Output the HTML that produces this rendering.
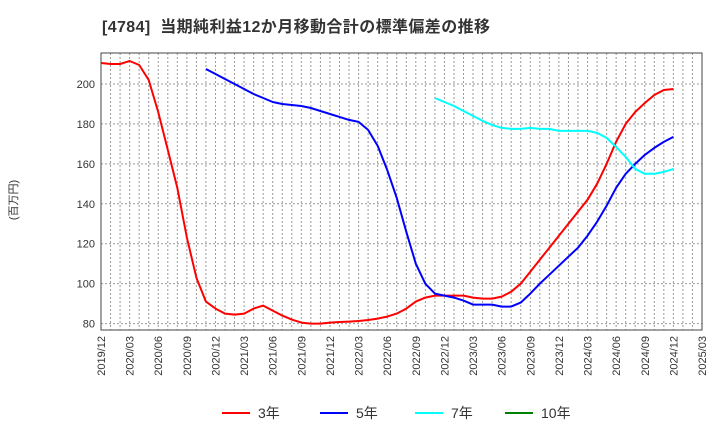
<!DOCTYPE html>
<html><head><meta charset="utf-8"><style>
body{margin:0;background:#fff;font-family:"Liberation Sans","Noto Sans CJK JP",sans-serif;}
</style></head><body>
<svg width="720" height="440" id="chart" xmlns="http://www.w3.org/2000/svg" font-family="Liberation Sans, Noto Sans CJK JP, sans-serif">
<text x="102" y="32" font-size="16" font-weight="bold" fill="#333" textLength="388" lengthAdjust="spacing" xml:space="preserve">[4784]  当期純利益12か月移動合計の標準偏差の推移</text>
<text transform="translate(17,200) rotate(-90)" text-anchor="middle" font-size="11" fill="#333">(百万円)</text>
<g id="grid"></g><g id="series"></g><g id="axes"></g>
<g font-size="14" fill="#333">
<line x1="222" y1="413" x2="250" y2="413" stroke="#ff0000" stroke-width="2"/><text x="258" y="418">3年</text>
<line x1="320" y1="413" x2="348" y2="413" stroke="#0000ff" stroke-width="2"/><text x="356" y="418">5年</text>
<line x1="415" y1="413" x2="443" y2="413" stroke="#00ffff" stroke-width="2"/><text x="451" y="418">7年</text>
<line x1="505" y1="413" x2="533" y2="413" stroke="#008000" stroke-width="2"/><text x="541" y="418">10年</text>
</g>
</svg>
<script>
const tickLabels=["2019/12","2020/03","2020/06","2020/09","2020/12","2021/03","2021/06","2021/09","2021/12","2022/03","2022/06","2022/09","2022/12","2023/03","2023/06","2023/09","2023/12","2024/03","2024/06","2024/09","2024/12","2025/03"];
const yTicks=[80,100,120,140,160,180,200];
const red=[210.5,210,210,211.5,209.5,202,186,167,148,123,103,91,87.5,85,84.5,85,87.5,89,86.5,84,82,80.5,80,80,80.5,80.8,81,81.3,81.8,82.5,83.5,85,87.5,91,93,94,94,94,94,93,92.5,92.5,93.5,96,100,106,112,118,124,130,136,142,150,160,171,180,186,190.5,194.5,197,197.5];
const blueStart=11;
const blue=[207.5,205,202.5,200,197.5,195,193,191,190,189.5,189,188,186.5,185,183.5,182,181,177,169,157,143,126,110,100,95,94,93,91.5,89.5,89.5,89.5,88.5,88.5,90.5,95,100,104.5,109,113.5,118,124,131,139,148,155,160,164.5,168,171,173.5];
const cyanStart=35;
const cyan=[193,191,189,186.5,184,181.5,179.5,178,177.5,177.5,178,177.5,177.5,176.5,176.5,176.5,176.5,175.5,173,168.5,163.5,157.5,155,155,156,157.5];
const L=101,R=702,T=53,B=330;
const X=m=>L+m*(R-L)/63;
const Y=v=>84+(200-v)*(239.6/120);
const NS="http://www.w3.org/2000/svg";
function mk(tag,attrs,parent){const e=document.createElementNS(NS,tag);for(const k in attrs)e.setAttribute(k,attrs[k]);document.getElementById(parent).appendChild(e);return e;}
for(let m=1;m<63;m++){const g=mk('line',{x1:X(m),x2:X(m),y1:T,y2:B,stroke:'#999','stroke-dasharray':'2,2','stroke-width':1},'grid');

}
yTicks.forEach(v=>{const g=mk('line',{x1:L,x2:R,y1:Y(v),y2:Y(v),stroke:'#999','stroke-dasharray':'2,2','stroke-width':1},'grid');


const t=mk('text',{x:L-6,y:Y(v)+4,'text-anchor':'end','font-size':11,fill:'#333'},'axes');t.textContent=v;

});
tickLabels.forEach((s,i)=>{const x=X(i*3);const t=mk('text',{transform:`translate(${x+4},${B+6}) rotate(-90)`,'text-anchor':'end','font-size':11,fill:'#333'},'axes');t.textContent=s;

});
const box=mk('rect',{x:L,y:T,width:R-L,height:B-T,fill:'none',stroke:'#444','stroke-width':1},'axes');


function line(arr,start,color,name){const p=arr.map((v,i)=>X(start+i).toFixed(1)+','+Y(v).toFixed(1)).join(' ');
const e=mk('polyline',{points:p,fill:'none',stroke:color,'stroke-width':2,'stroke-linejoin':'round'},'series');

}
line(red,0,'#ff0000','series-3y');
line(blue,blueStart,'#0000ff','series-5y');
line(cyan,cyanStart,'#00ffff','series-7y');
</script>
</body></html>
